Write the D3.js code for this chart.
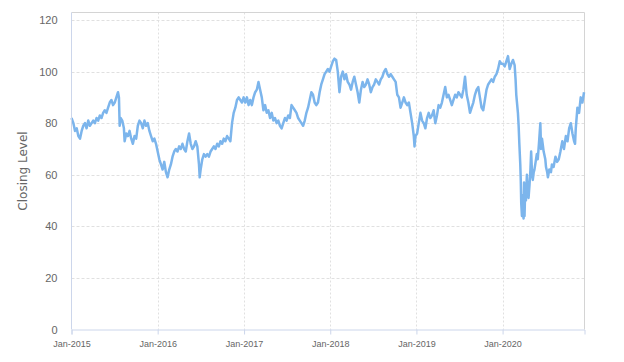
<!DOCTYPE html>
<html>
<head>
<meta charset="utf-8">
<script src="https://cdn.jsdelivr.net/npm/d3@7"></script>
<style>
  body { margin: 0; background: #fff; }
  svg { font-family: "DejaVu Sans", sans-serif; }
  .grid-y line { stroke: #e0e0e0; stroke-dasharray: 3,2; }
  .grid-x line { stroke: #e0e0e0; stroke-dasharray: 2,2; }
  .axis text { fill: #666; }
</style>
</head>
<body>
<div id="chart"></div>
<script>
// closing levels (roughly weekly, denser around the 2020 crash)
var y2015 = [
  ["2015-01-01",82],["2015-01-09",80],["2015-01-16",77],["2015-01-23",78],["2015-01-30",75],
  ["2015-02-06",74],["2015-02-13",77],["2015-02-20",79],["2015-02-27",80],["2015-03-06",78],
  ["2015-03-13",81],["2015-03-20",79],["2015-03-27",80],["2015-04-03",81],["2015-04-10",80],
  ["2015-04-17",82],["2015-04-24",81],["2015-05-01",83],["2015-05-08",82],["2015-05-15",84],
  ["2015-05-22",85],["2015-05-29",84],["2015-06-05",86],["2015-06-12",88],["2015-06-19",89],
  ["2015-06-26",87],["2015-07-03",88],["2015-07-10",90],["2015-07-17",92],["2015-07-21",90],
  ["2015-07-24",79],["2015-07-28",82],["2015-08-04",81],["2015-08-11",78],["2015-08-14",73],
  ["2015-08-21",76],["2015-08-28",75],["2015-09-04",77],["2015-09-11",74],["2015-09-18",72],
  ["2015-09-25",75],["2015-10-02",74],["2015-10-09",79],["2015-10-16",81],["2015-10-23",80],
  ["2015-10-30",78],["2015-11-06",81],["2015-11-13",79],["2015-11-20",80],["2015-11-27",77],
  ["2015-12-04",75],["2015-12-11",73],["2015-12-18",74],["2015-12-25",72]
];
var y2016 = [
  ["2016-01-08",66],["2016-01-15",64],["2016-01-22",62],["2016-01-29",65],["2016-02-05",61],
  ["2016-02-12",59],["2016-02-19",62],["2016-02-26",64],["2016-03-04",67],["2016-03-11",69],
  ["2016-03-18",70],["2016-03-25",69],["2016-04-01",71],["2016-04-08",70],["2016-04-15",72],
  ["2016-04-22",70],["2016-04-29",69],["2016-05-06",73],["2016-05-13",76],["2016-05-20",72],
  ["2016-05-27",70],["2016-06-03",71],["2016-06-10",73],["2016-06-17",71],["2016-06-24",64],
  ["2016-06-27",59],["2016-07-01",62],["2016-07-08",66],["2016-07-15",68],["2016-07-22",67],
  ["2016-07-29",68],["2016-08-05",67],["2016-08-12",69],["2016-08-19",70],["2016-08-26",71],
  ["2016-09-02",70],["2016-09-09",72],["2016-09-16",71],["2016-09-23",73],["2016-09-30",72],
  ["2016-10-07",74],["2016-10-14",73],["2016-10-21",75],["2016-10-28",74],["2016-11-04",73],
  ["2016-11-11",80],["2016-11-18",84],["2016-11-25",86],["2016-12-02",89],["2016-12-09",90],
  ["2016-12-16",89],["2016-12-23",88],["2016-12-30",90]
];
var y2017 = [
  ["2017-01-06",88],["2017-01-13",90],["2017-01-20",87],["2017-01-27",89],["2017-02-03",87],
  ["2017-02-10",90],["2017-02-17",92],["2017-02-24",93],["2017-03-03",96],["2017-03-10",93],
  ["2017-03-17",90],["2017-03-24",85],["2017-03-31",87],["2017-04-07",84],["2017-04-14",85],
  ["2017-04-21",82],["2017-04-28",84],["2017-05-05",81],["2017-05-12",82],["2017-05-19",80],
  ["2017-05-26",81],["2017-06-02",79],["2017-06-09",78],["2017-06-16",80],["2017-06-23",82],
  ["2017-06-30",81],["2017-07-07",83],["2017-07-14",82],["2017-07-21",87],["2017-07-28",86],
  ["2017-08-04",85],["2017-08-11",84],["2017-08-18",82],["2017-08-25",81],["2017-09-01",80],
  ["2017-09-08",79],["2017-09-15",81],["2017-09-22",84],["2017-09-29",86],["2017-10-06",89],
  ["2017-10-13",92],["2017-10-20",91],["2017-10-27",88],["2017-11-03",87],["2017-11-10",88],
  ["2017-11-17",92],["2017-11-24",95],["2017-12-01",97],["2017-12-08",99],["2017-12-15",100],
  ["2017-12-22",101],["2017-12-29",100]
];
var y2018 = [
  ["2018-01-05",102],["2018-01-12",104],["2018-01-19",105],["2018-01-26",104.5],["2018-02-02",100],
  ["2018-02-09",92],["2018-02-16",98],["2018-02-23",100],["2018-03-02",97],["2018-03-09",99],
  ["2018-03-16",96],["2018-03-23",95],["2018-03-30",93],["2018-04-06",96],["2018-04-13",98],
  ["2018-04-20",95],["2018-04-27",92],["2018-05-04",88],["2018-05-11",93],["2018-05-18",96],
  ["2018-05-25",94],["2018-06-01",95],["2018-06-08",97],["2018-06-15",95],["2018-06-22",92],
  ["2018-06-29",94],["2018-07-06",95],["2018-07-13",97],["2018-07-20",96],["2018-07-27",95],
  ["2018-08-03",97],["2018-08-10",98],["2018-08-17",100],["2018-08-24",101],["2018-08-31",99],
  ["2018-09-07",98],["2018-09-14",99],["2018-09-21",98],["2018-09-28",97],["2018-10-05",96],
  ["2018-10-12",91],["2018-10-19",90],["2018-10-26",86],["2018-11-02",88],["2018-11-09",90],
  ["2018-11-16",88],["2018-11-23",87],["2018-11-30",88],["2018-12-07",84],["2018-12-14",80],
  ["2018-12-21",75],["2018-12-24",71],["2018-12-28",75]
];
var y2019 = [
  ["2019-01-04",76],["2019-01-11",80],["2019-01-18",84],["2019-01-25",81],["2019-02-01",80],
  ["2019-02-08",78],["2019-02-15",82],["2019-02-22",84],["2019-03-01",82],["2019-03-08",83],
  ["2019-03-15",85],["2019-03-22",80],["2019-03-29",83],["2019-04-05",87],["2019-04-12",86],
  ["2019-04-19",88],["2019-04-26",91],["2019-05-03",94],["2019-05-10",90],["2019-05-17",91],
  ["2019-05-24",89],["2019-05-31",87],["2019-06-07",89],["2019-06-14",91],["2019-06-21",90],
  ["2019-06-28",92],["2019-07-05",91],["2019-07-12",90],["2019-07-19",93],["2019-07-26",98],
  ["2019-08-02",91],["2019-08-09",88],["2019-08-16",84],["2019-08-23",86],["2019-08-30",88],
  ["2019-09-06",91],["2019-09-13",93],["2019-09-20",94],["2019-09-27",90],["2019-10-04",86],
  ["2019-10-11",85],["2019-10-18",89],["2019-10-25",93],["2019-11-01",95],["2019-11-08",96],
  ["2019-11-15",97],["2019-11-22",96],["2019-11-29",98],["2019-12-06",99],["2019-12-13",101],
  ["2019-12-20",104],["2019-12-27",103]
];
var y2020 = [
  ["2020-01-03",103],["2020-01-10",102],["2020-01-17",104],["2020-01-24",106],["2020-01-31",101],
  ["2020-02-07",103],["2020-02-14",104.5],["2020-02-21",102.5],["2020-02-25",97],["2020-02-28",91],
  ["2020-03-06",84],["2020-03-09",79],["2020-03-12",72],["2020-03-16",64],["2020-03-18",58],
  ["2020-03-20",49],["2020-03-23",44],["2020-03-25",52],["2020-03-27",46],["2020-03-30",43],
  ["2020-04-01",57],["2020-04-03",44],["2020-04-06",55],["2020-04-09",50],["2020-04-13",60],
  ["2020-04-16",54],["2020-04-20",51],["2020-04-24",56],["2020-04-28",62],["2020-05-01",69],
  ["2020-05-05",60],["2020-05-08",58],["2020-05-12",61],["2020-05-15",62],["2020-05-20",65],
  ["2020-05-25",68],["2020-05-29",66],["2020-06-03",72],["2020-06-09",80],["2020-06-12",70],
  ["2020-06-16",74],["2020-06-23",69],["2020-06-30",66],["2020-07-03",63],["2020-07-08",61],
  ["2020-07-11",59],["2020-07-17",62],["2020-07-24",61],["2020-07-28",64],["2020-08-04",63],
  ["2020-08-12",67],["2020-08-19",65],["2020-08-26",66],["2020-09-02",69],["2020-09-10",73],
  ["2020-09-17",70],["2020-09-25",75],["2020-10-02",73],["2020-10-09",78],["2020-10-16",80],
  ["2020-10-23",76],["2020-10-30",73],["2020-11-03",72],["2020-11-06",78],["2020-11-13",86],
  ["2020-11-20",84],["2020-11-27",90],["2020-12-04",88],["2020-12-11",92]
];
var yTicks = [0, 20, 40, 60, 80, 100, 120];
var xTickLabels = ["Jan-2015", "Jan-2016", "Jan-2017", "Jan-2018", "Jan-2019", "Jan-2020"];
var yTitle = "Closing Level";

var W = 624, H = 362;
var plot = { left: 71.5, right: 584.5, top: 12.5, bottom: 329.5 };

var parseDate = d3.timeParse("%Y-%m-%d");
var parseTick = d3.timeParse("%b-%Y");

var data = [].concat(y2015, y2016, y2017, y2018, y2019, y2020).map(function(d) {
    return { date: parseDate(d[0]), close: d[1] };
});

var svg = d3.select("#chart").append("svg")
    .attr("width", W)
    .attr("height", H);

var scaleX = d3.scaleTime()
    .domain([parseDate("2015-01-01"), parseDate("2020-12-13")])
    .range([plot.left, plot.right]);
var scaleY = d3.scaleLinear()
    .domain([0, 120])
    .range([plot.bottom, 20]);

var tickDates = xTickLabels.map(function(t) { return parseTick(t); });

// grid
svg.append("g")
    .attr("class", "grid-y")
    .selectAll("line")
    .data(yTicks.filter(function(v) { return v > 0; }))
    .enter().append("line")
    .attr("x1", plot.left).attr("x2", plot.right)
    .attr("y1", function(d) { return Math.round(scaleY(d)) + 0.5; })
    .attr("y2", function(d) { return Math.round(scaleY(d)) + 0.5; });

svg.append("g")
    .attr("class", "grid-x")
    .selectAll("line")
    .data(tickDates.slice(1))
    .enter().append("line")
    .attr("x1", function(d) { return Math.round(scaleX(d)) + 0.5; })
    .attr("x2", function(d) { return Math.round(scaleX(d)) + 0.5; })
    .attr("y1", plot.top).attr("y2", plot.bottom);

// plot border (top / right)
svg.append("path")
    .attr("d", "M" + plot.left + "," + plot.top + "H" + plot.right + "V" + plot.bottom)
    .attr("fill", "none")
    .attr("stroke", "#d4d4d4");

// the series
var line = d3.line()
    .x(function(d) { return scaleX(d.date); })
    .y(function(d) { return scaleY(d.close); });

svg.append("path")
    .datum(data)
    .attr("d", line)
    .attr("fill", "none")
    .attr("stroke", "#7cb5ec")
    .attr("stroke-width", 2.5)
    .attr("stroke-linejoin", "round");

// axes
var xAxis = d3.axisBottom(scaleX)
    .tickValues(tickDates)
    .tickFormat(function(d, i) { return xTickLabels[i]; })
    .tickSize(5)
    .tickPadding(4);

var gx = svg.append("g")
    .attr("class", "axis x")
    .attr("transform", "translate(0," + plot.bottom + ")")
    .call(xAxis);
gx.select(".domain").attr("stroke", "#ccd6eb");
gx.selectAll(".tick line").attr("stroke", "#ccd6eb");
gx.selectAll("text").style("font-size", "9px").attr("dy", "0.9em");

var yAxis = d3.axisLeft(scaleY)
    .tickValues(yTicks)
    .tickSize(0)
    .tickPadding(14);

var gy = svg.append("g")
    .attr("class", "axis y")
    .attr("transform", "translate(" + plot.left + ",0)")
    .call(yAxis);
gy.select(".domain").attr("stroke", "#ccd6eb").attr("d", "M0," + plot.top + "V" + plot.bottom);
gy.selectAll("text").style("font-size", "11px");

svg.append("text")
    .attr("transform", "translate(27," + ((plot.top + plot.bottom) / 2) + ") rotate(-90)")
    .attr("text-anchor", "middle")
    .style("font-size", "12px")
    .style("fill", "#666")
    .text(yTitle);
</script>
</body>
</html>
